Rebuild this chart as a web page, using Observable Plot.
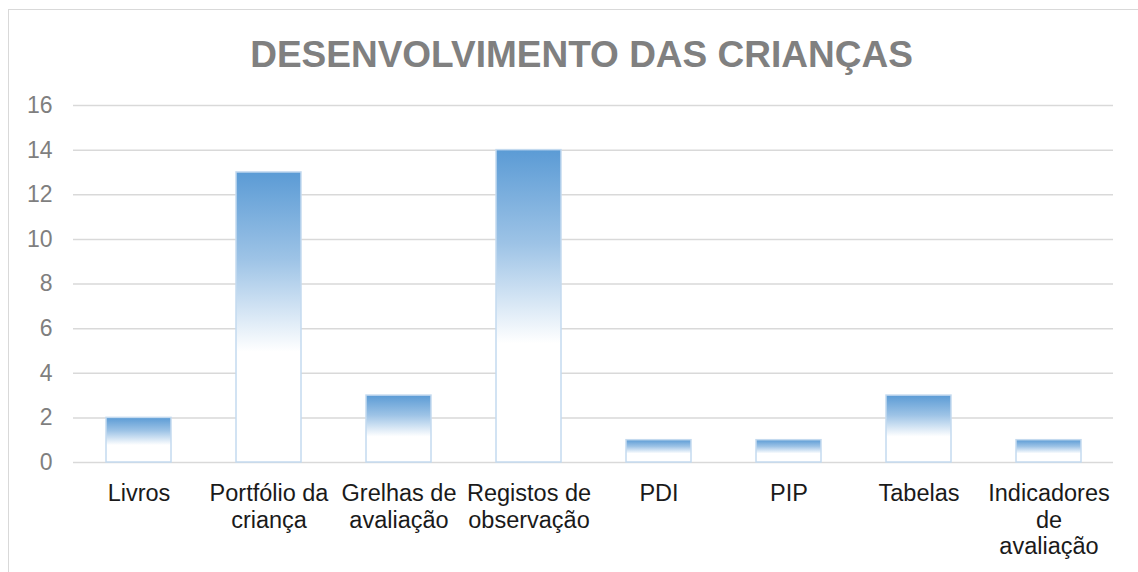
<!DOCTYPE html>
<html>
<head>
<meta charset="utf-8">
<script src="https://cdn.jsdelivr.net/npm/d3@7"></script>
<script src="https://cdn.jsdelivr.net/npm/@observablehq/plot@0.6"></script>
<style>
  html, body { margin: 0; padding: 0; background: #fff; }
  #wrap { position: relative; width: 1138px; height: 572px; overflow: hidden; }
  #border { position: absolute; left: 8px; top: 9px; width: 1200px; height: 700px;
            border-left: 1.5px solid #d9d9d9; border-top: 1.5px solid #d9d9d9; }
  #chart { position: absolute; left: 0; top: 0; }
</style>
</head>
<body>
<div id="wrap"><div id="border"></div><div id="chart"></div></div>
<script>
const title = "DESENVOLVIMENTO DAS CRIANÇAS";
const categories = ["Livros", "Portfólio da criança", "Grelhas de avaliação", "Registos de observação", "PDI", "PIP", "Tabelas", "Indicadores de avaliação"];
const labels = ["Livros", "Portfólio da\ncriança", "Grelhas de\navaliação", "Registos de\nobservação", "PDI", "PIP", "Tabelas", "Indicadores\nde\navaliação"];
const values = [2, 13, 3, 14, 1, 1, 3, 1];
const yTicks = [0, 2, 4, 6, 8, 10, 12, 14, 16];

const data = categories.map((c, i) => ({category: c, value: values[i]}));
const labelOf = new Map(categories.map((c, i) => [c, labels[i]]));

const chart = Plot.plot({
  width: 1138,
  height: 572,
  marginTop: 105,
  marginBottom: 110,
  marginLeft: 73,
  marginRight: 25,
  style: {fontFamily: "'Liberation Sans', Arial, sans-serif", background: "transparent", overflow: "visible"},
  x: {domain: categories, paddingInner: 0.5, paddingOuter: 0.25, label: null},
  y: {domain: [0, 16], label: null},
  marks: [
    Plot.gridY(yTicks, {stroke: "#d9d9d9", strokeOpacity: 1, strokeWidth: 1.5}),
    Plot.barY(data, {x: "category", y: "value", fill: "url(#barGrad)", stroke: "#c4daef", strokeWidth: 1.5}),
    Plot.axisY(yTicks, {tickSize: 0, tickPadding: 21, fontSize: 23, fill: "#7f7f7f", label: null}),
    Plot.axisX({tickSize: 0, tickPadding: 20, fontSize: 23.5, fill: "#1a1a1a", lineHeight: 1.12,
                tickFormat: d => labelOf.get(d), label: null}),
    Plot.text([title], {frameAnchor: "top", dx: -12, dy: -39, lineAnchor: "bottom",
                        fontSize: 37, fontWeight: "bold", fill: "#808080"})
  ]
});

const svg = d3.select(chart);
const defs = svg.insert("defs", ":first-child");
const grad = defs.append("linearGradient").attr("id", "barGrad")
  .attr("x1", 0).attr("y1", 0).attr("x2", 0).attr("y2", 1);
grad.append("stop").attr("offset", "0%").attr("stop-color", "#5b9bd5");
grad.append("stop").attr("offset", "30%").attr("stop-color", "#9dc3e6");
grad.append("stop").attr("offset", "62%").attr("stop-color", "#ffffff");
grad.append("stop").attr("offset", "100%").attr("stop-color", "#ffffff");

document.getElementById("chart").appendChild(chart);
</script>
</body>
</html>
